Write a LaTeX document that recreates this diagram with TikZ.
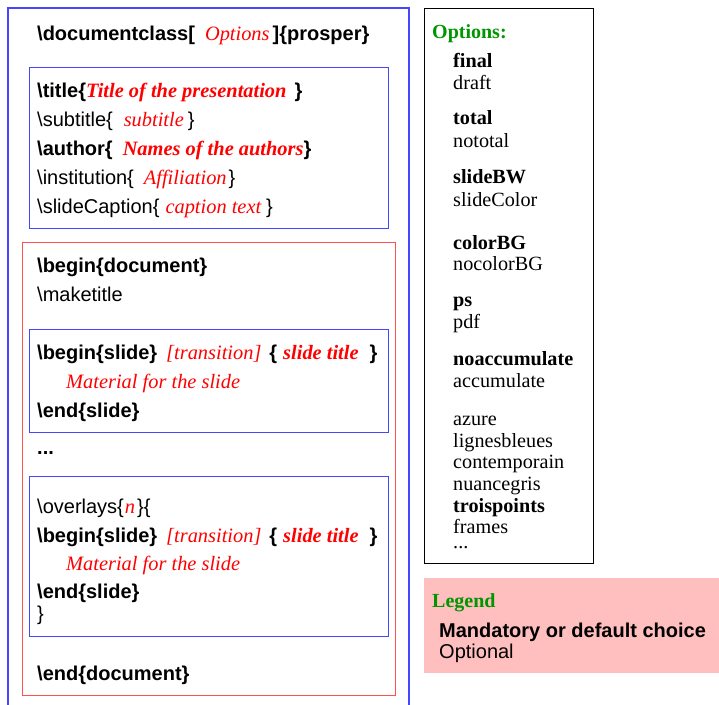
\documentclass[tikz,border=0pt]{standalone}
\usepackage{fontspec}
\setmainfont{Liberation Serif}
\setsansfont{Liberation Sans}
\definecolor{boxblue}{RGB}{70,70,255}
\definecolor{boxred}{RGB}{255,80,80}
\definecolor{optgreen}{RGB}{0,150,0}
\definecolor{legpink}{RGB}{255,191,191}
\definecolor{optred}{RGB}{255,0,0}
\newcommand{\opti}[1]{{\rmfamily\itshape\mdseries\fontsize{20.4}{22}\selectfont\color{optred}#1}}
\newcommand{\optbi}[1]{{\rmfamily\itshape\bfseries\fontsize{20.4}{22}\selectfont\color{optred}#1}}
\newcommand{\bs}{\textbackslash}
\tikzset{
  sline/.style={anchor=base west, inner sep=0pt, font=\sffamily\fontsize{20}{22}\selectfont},
  rline/.style={anchor=base west, inner sep=0pt, font=\rmfamily\fontsize{20.2}{22}\selectfont},
  gline/.style={anchor=base west, inner sep=0pt, font=\rmfamily\bfseries\fontsize{20}{22}\selectfont, text=optgreen},
  bluebox/.style={draw=boxblue, line width=1pt},
  redbox/.style={draw=boxred, line width=1pt},
  optbox/.style={draw=black, line width=1pt},
}
\begin{document}
\begin{tikzpicture}[x=1pt,y=-1pt]
\useasboundingbox (0,0) rectangle (719,704);
\clip (0,0) rectangle (719,704);
% boxes
\draw[bluebox, line width=1.2pt] (8,720) -- (8,8) -- (409,8) -- (409,720);
\draw[bluebox] (29,67) rectangle (388,228);
\draw[redbox] (22,242) rectangle (395,695);
\draw[bluebox] (29,329) rectangle (388,432);
\draw[bluebox] (29,476) rectangle (388,636);
\draw[optbox] (424,8) rectangle (593,563);
\fill[legpink] (424,578) rectangle (719,673);
% left column
\node[sline] (docclass) at (37,40) {\textbf{\bs documentclass[}\hspace{10pt}\opti{Options}\hspace{3pt}\textbf{]\{prosper\}}};
\node[sline] (title) at (37,97) {\textbf{\bs title\{}\optbi{Title of the presentation}\hspace{8pt}\textbf{\}}};
\node[sline] (subtitle) at (37,126) {\bs subtitle\{\hspace{11pt}\opti{subtitle}\hspace{4pt}\}};
\node[sline] (author) at (37,155) {\textbf{\bs author\{}\hspace{10pt}\optbi{Names of the authors}\textbf{\}}};
\node[sline] (inst) at (37,184) {\bs institution\{\hspace{10pt}\opti{Affiliation}\hspace{2pt}\}};
\node[sline] (caption) at (37,213) {\bs slideCaption\{\hspace{6pt}\opti{caption text}\hspace{5pt}\}};
\node[sline] (begdoc) at (37,272) {\textbf{\bs begin\{document\}}};
\node[sline] (maketitle) at (37,301) {\bs maketitle};
\node[sline] (begslide) at (37,359) {\textbf{\bs begin\{slide\}}\hspace{9pt}\opti{[transition]}\hspace{8pt}\textbf{\{}\hspace{6pt}\optbi{slide title}\hspace{11pt}\textbf{\}}};
\node[rline] (mat) at (66,388) {\opti{Material for the slide}};
\node[sline] (endslide) at (37,417) {\textbf{\bs end\{slide\}}};
\node[sline] (dots) at (37,454) {\textbf{...}};
\node[sline] (overlays) at (37,513) {\bs overlays\{\hspace{1pt}\opti{n}\hspace{2pt}\}\{};
\node[sline] (begslideb) at (37,542) {\textbf{\bs begin\{slide\}}\hspace{9pt}\opti{[transition]}\hspace{8pt}\textbf{\{}\hspace{6pt}\optbi{slide title}\hspace{11pt}\textbf{\}}};
\node[rline] (matb) at (66,570) {\opti{Material for the slide}};
\node[sline] (endslideb) at (37,598) {\textbf{\bs end\{slide\}}};
\node[sline] (closebrace) at (37,620) {\}};
\node[sline] (enddoc) at (37,680) {\textbf{\bs end\{document\}}};
% options
\node[gline] (opthead) at (432,38) {Options:};
\node[rline] (o1) at (453,67) {\textbf{final}};
\node[rline] (o2) at (453,89) {draft};
\node[rline] (o3) at (453,124) {\textbf{total}};
\node[rline] (o4) at (453,147) {nototal};
\node[rline] (o5) at (453,183) {\textbf{slideBW}};
\node[rline] (o6) at (453,206) {slideColor};
\node[rline] (o7) at (453,249) {\textbf{colorBG}};
\node[rline] (o8) at (453,270) {nocolorBG};
\node[rline] (o9) at (453,306) {\textbf{ps}};
\node[rline] (o10) at (453,328) {pdf};
\node[rline] (o11) at (453,365) {\textbf{noaccumulate}};
\node[rline] (o12) at (453,387) {accumulate};
\node[rline] (o13) at (453,425) {azure};
\node[rline] (o14) at (453,447) {lignesbleues};
\node[rline] (o15) at (453,468) {contemporain};
\node[rline] (o16) at (453,490) {nuancegris};
\node[rline] (o17) at (453,512) {\textbf{troispoints}};
\node[rline] (o18) at (453,533) {frames};
\node[rline] (o19) at (453,548) {...};
% legend
\node[gline] (leghead) at (432,607) {Legend};
\node[sline] (leg1) at (439,637) {\textbf{Mandatory or default choice}};
\node[sline] (leg2) at (439,658) {Optional};
\end{tikzpicture}
\end{document}
